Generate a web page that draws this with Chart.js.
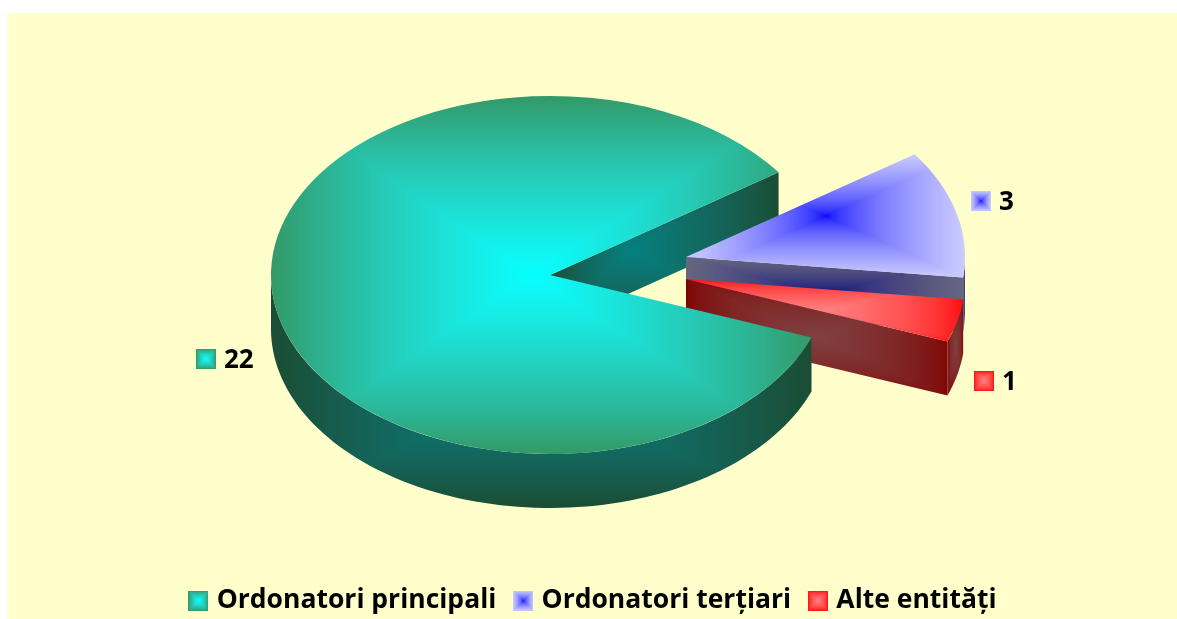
<!DOCTYPE html>
<html>
<head>
<meta charset="utf-8">
<script src="https://cdn.jsdelivr.net/npm/chart.js@4"></script>
<style>
  html, body { margin: 0; background: #fff; }
  #wrap { position: absolute; left: 7px; top: 13px; width: 1170px; height: 606px; background: #FFFFCC; overflow: hidden; }
</style>
</head>
<body>
<!-- canvas runs past the edges so the legend lands where it should with its shared padding -->
<div id="wrap"><canvas id="chart" width="1176" height="611"></canvas></div>
<script>
const categories = ['Ordonatori principali', 'Ordonatori terțiari', 'Alte entități'];
const sliceValues = [22, 3, 1];
const valueLabels = ['22', '3', '1'];

// Gradient ends per slice: [centre, edge].
const faceColors = [['#00FFFF', '#339966'], ['#0000FF', '#CCCCFF'], ['#FF8080', '#FF0000']];
// Shadowed versions for the side walls.
const wallColors = [['#008080', '#1A4D33'], ['#000080', '#666680'], ['#804040', '#800000']];

// Ellipse of the pie in canvas pixels (wrap is at 7,13).
const pie = { x: 543, y: 262, rx: 279, ry: 179, depth: 54 };
const explode = [[0, 0], [136, -18], [136, 4]];
const focus = [0.48, 0.5, 0.5];
const labelSpots = [[189, 336], [964, 178], [967, 358]];

function hexRgb(h) {
  return [1, 3, 5].map(i => parseInt(h.slice(i, i + 2), 16));
}

// Office blends its gradients closer to linear light than to sRGB.
const toLinear = v => Math.pow(v / 255, 1.8);
const toSrgb = v => 255 * Math.pow(v, 1 / 1.8);

// Rectangular "from centre" gradient, painted into a small canvas.
function rectGradient(w, h, colors, fx) {
  const cv = document.createElement('canvas');
  cv.width = w;
  cv.height = h;
  const c = cv.getContext('2d');
  const img = c.createImageData(w, h);
  const c0 = hexRgb(colors[0]).map(toLinear), c1 = hexRgb(colors[1]).map(toLinear);
  const mx = w * fx, my = h / 2;
  for (let y = 0; y < h; y++) {
    for (let x = 0; x < w; x++) {
      const dx = x + 0.5 - mx, dy = y + 0.5 - my;
      const tx = dx < 0 ? -dx / mx : dx / (w - mx);
      const t = Math.min(1, Math.max(tx, Math.abs(dy) / my));
      const p = (y * w + x) * 4;
      for (let k = 0; k < 3; k++) img.data[p + k] = toSrgb(c0[k] + (c1[k] - c0[k]) * t);
      img.data[p + 3] = 255;
    }
  }
  c.putImageData(img, 0, 0);
  return cv;
}

const swatches = faceColors.map(c => rectGradient(20, 20, c, 0.5));

function boxOf(points) {
  const xs = points.map(p => p[0]), ys = points.map(p => p[1]);
  const x = Math.floor(Math.min(...xs)), y = Math.floor(Math.min(...ys));
  return { x, y, w: Math.ceil(Math.max(...xs)) - x, h: Math.ceil(Math.max(...ys)) - y };
}

function rimPoint(i, a) {
  return [pie.x + explode[i][0] + pie.rx * Math.cos(a), pie.y + explode[i][1] + pie.ry * Math.sin(a)];
}

function hubPoint(i) {
  return [pie.x + explode[i][0], pie.y + explode[i][1]];
}

// Extrudes a top outline downwards and fills it with its own gradient.
function fillWall(ctx, outline, colors, fx) {
  const down = outline.map(p => [p[0], p[1] + pie.depth]).reverse();
  const poly = outline.concat(down);
  const b = boxOf(poly);
  const pattern = ctx.createPattern(rectGradient(b.w, b.h, colors, fx), 'no-repeat');
  pattern.setTransform(new DOMMatrix().translate(b.x, b.y));
  ctx.fillStyle = pattern;
  ctx.beginPath();
  poly.forEach((p, n) => n ? ctx.lineTo(p[0], p[1]) : ctx.moveTo(p[0], p[1]));
  ctx.closePath();
  ctx.fill();
}

// Cut face along the slice's end angle.
function edgeWall(ctx, arc, i, fx) {
  fillWall(ctx, [hubPoint(i), rimPoint(i, arc.endAngle)], wallColors[i], fx);
}

// Curved outside wall, only the part turned towards the viewer.
function outerWall(ctx, arc, i, fx) {
  for (let k = 0; k < 2; k++) {
    const lo = Math.max(arc.startAngle, k * 2 * Math.PI);
    const hi = Math.min(arc.endAngle, k * 2 * Math.PI + Math.PI);
    if (hi <= lo) continue;
    const outline = [];
    for (let n = 0; n <= 90; n++) outline.push(rimPoint(i, lo + (hi - lo) * n / 90));
    fillWall(ctx, outline, wallColors[i], fx);
  }
}

// Top face: the arc element draws itself, flattened into an ellipse.
function drawFace(ctx, arc, i) {
  const sx = pie.rx / arc.outerRadius, sy = pie.ry / arc.outerRadius;
  const hub = hubPoint(i);
  const m = new DOMMatrix().translate(hub[0], hub[1]).scale(sx, sy).translate(-arc.x, -arc.y);
  const points = [hub];
  for (let n = 0; n <= 180; n++) {
    points.push(rimPoint(i, arc.startAngle + (arc.endAngle - arc.startAngle) * n / 180));
  }
  const b = boxOf(points);
  const pattern = ctx.createPattern(rectGradient(b.w, b.h, faceColors[i], focus[i]), 'no-repeat');
  pattern.setTransform(m.inverse().translate(b.x, b.y));
  arc.options = Object.assign({}, arc.options, { backgroundColor: pattern });
  ctx.save();
  ctx.transform(m.a, m.b, m.c, m.d, m.e, m.f);
  arc.draw(ctx);
  ctx.restore();
}

const pie3d = {
  id: 'pie3d',
  // The plain flat pie is replaced by the drawing below.
  beforeDatasetDraw() {
    return false;
  },
  afterDatasetsDraw(chart) {
    const ctx = chart.ctx;
    const arcs = chart.getDatasetMeta(0).data;

    // Back to front: the big slice's notch wall, exploded slices, then the big slice.
    ctx.save();
    edgeWall(ctx, arcs[0], 0, 0.35);
    [1, 2].forEach(i => {
      edgeWall(ctx, arcs[i], i, 0.5);
      outerWall(ctx, arcs[i], i, 0.5);
      drawFace(ctx, arcs[i], i);
    });
    outerWall(ctx, arcs[0], 0, 0.47);
    drawFace(ctx, arcs[0], 0);

    ctx.font = 'bold 26px "Open Sans"';
    ctx.fillStyle = '#000';
    ctx.textBaseline = 'middle';
    labelSpots.forEach((s, i) => {
      ctx.drawImage(swatches[i], s[0], s[1]);
      ctx.fillText(valueLabels[i], s[0] + 28, s[1] + 12);
    });
    ctx.restore();
  }
};

new Chart(document.getElementById('chart'), {
  type: 'pie',
  plugins: [pie3d],
  data: {
    labels: categories,
    datasets: [{
      data: sliceValues,
      backgroundColor: faceColors.map(c => c[0]),
      borderWidth: 0,
      rotation: 110.4
    }]
  },
  options: {
    responsive: false,
    animation: false,
    events: [],
    plugins: {
      tooltip: { enabled: false },
      legend: {
        position: 'bottom',
        labels: {
          color: '#000',
          font: { family: 'Open Sans', size: 26.5, weight: 'bold' },
          usePointStyle: true,
          pointStyleWidth: 10,
          padding: 22,
          generateLabels: () => categories.map((c, i) => ({
            text: c,
            pointStyle: swatches[i],
            fontColor: '#000',
            lineWidth: 0,
            index: i
          }))
        }
      }
    }
  }
});
</script>
</body>
</html>
